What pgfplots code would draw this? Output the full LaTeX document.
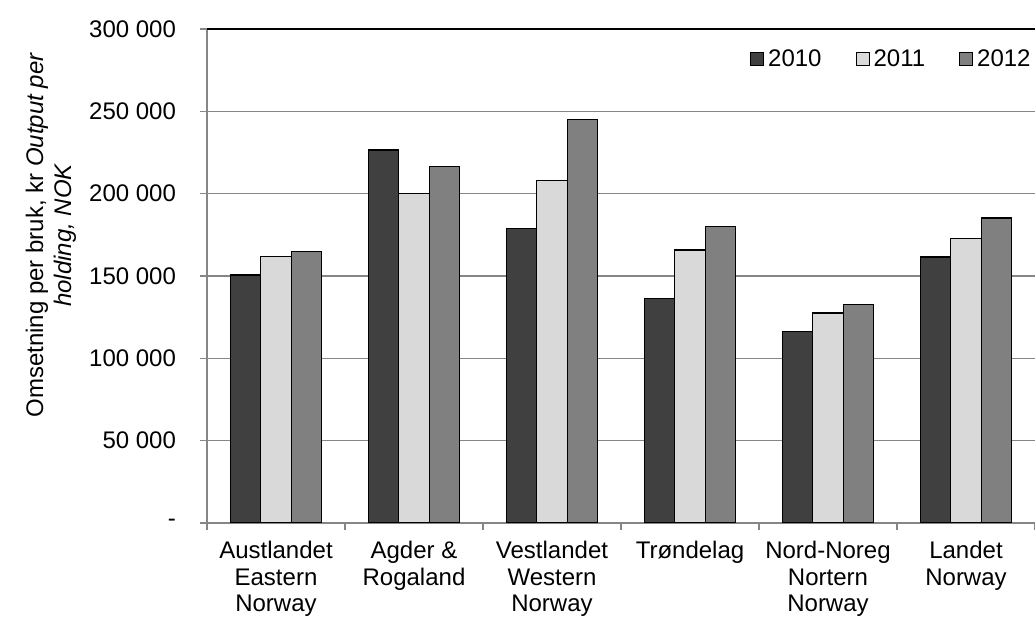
\documentclass[border=0pt]{standalone}
\usepackage{fontspec}
\setmainfont{Liberation Sans}
\usepackage{pgfplots}
\pgfplotsset{compat=1.18}
\definecolor{c2010}{HTML}{404040}
\definecolor{c2011}{HTML}{D9D9D9}
\definecolor{c2012}{HTML}{808080}
\definecolor{axgray}{HTML}{868686}

\begin{document}
\begin{tikzpicture}
\begin{axis}[
  name=ax,
  scale only axis,
  width=414pt, height=247pt,
  xmin=-0.5, xmax=5.5,
  ymin=0, ymax=300000,
  scaled y ticks=false,
  axis x line*=bottom,
  axis y line*=left,
  axis line style={-, axgray, line width=1pt},
  tick align=outside,
  major tick length=3.5pt,
  minor tick length=3.5pt,
  xtick={0,...,5},
  xticklabels={{Austlandet\\Eastern\\Norway},{Agder \&\\Rogaland},{Vestlandet\\Western\\Norway},{Trøndelag},{Nord-Noreg\\Nortern\\Norway},{Landet\\Norway}},
  major x tick style={draw=none},
  minor xtick={-0.5,0.5,...,5.5},
  minor x tick style={axgray, line width=0.8pt},
  xticklabel style={align=center, font=\fontsize{12}{13.3}\selectfont, yshift=-2pt},
  ytick={0,50000,...,300000},
  yticklabels={-,50 000,100 000,150 000,200 000,250 000,300 000},
  y tick style={axgray, line width=0.8pt},
  yticklabel style={font=\fontsize{12}{13}\selectfont, xshift=-8.5pt},
  ymajorgrids,
  grid style={axgray, line width=0.8pt},
  legend columns=3,
  legend style={draw=none, fill=none, at={(rel axis cs:1,1)}, anchor=north east,
    xshift=3pt, yshift=-6pt, font=\fontsize{12}{13}\selectfont,
    /tikz/every even column/.append style={column sep=15pt}},
  legend image code/.code={\draw[#1, draw=black, line width=0.5pt] (-1.5pt,-3.25pt) rectangle (5pt,3.25pt);},
]
\addplot[ybar, bar width=0.221, bar shift=-0.221, fill=c2010, draw=black, line width=0.6pt]
  coordinates {(0,150600) (1,226500) (2,178700) (3,136400) (4,116200) (5,161500)};
\addplot[ybar, bar width=0.221, bar shift=0, fill=c2011, draw=black, line width=0.6pt]
  coordinates {(0,161700) (1,200200) (2,207800) (3,165800) (4,127500) (5,172600)};
\addplot[ybar, bar width=0.221, bar shift=0.221, fill=c2012, draw=black, line width=0.6pt]
  coordinates {(0,165100) (1,216300) (2,245100) (3,180100) (4,132500) (5,185200)};
\legend{2010,2011,2012}
\draw[black, line width=0.8pt] (rel axis cs:0,1) -- (rel axis cs:1,1);
\end{axis}
\node[rotate=90, align=center, font=\fontsize{12}{14}\selectfont]
  at ([shift={(-78pt,144pt)}]ax.south west)
  {Omsetning per bruk, kr \textit{Output per}\\\textit{holding, NOK}};
\pgfresetboundingbox
\path ([shift={(-103.5pt,-47pt)}]ax.south west) rectangle ([shift={(0pt,14.5pt)}]ax.north east);
\end{tikzpicture}
\end{document}
